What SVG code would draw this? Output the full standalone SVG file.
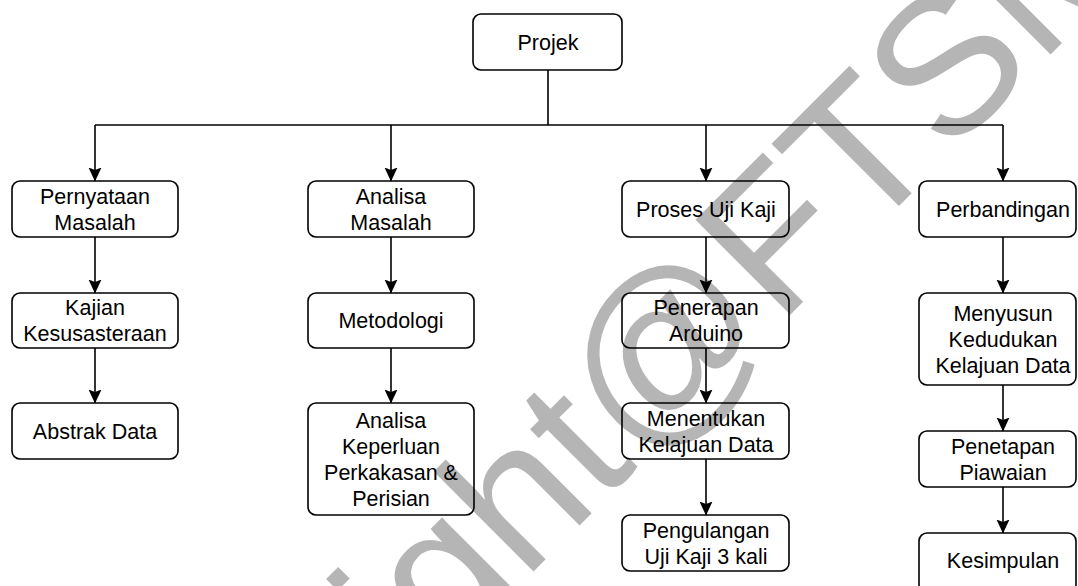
<svg xmlns="http://www.w3.org/2000/svg" width="1078" height="586" viewBox="0 0 1078 586">
  <style>
    .box { fill: #ffffff; stroke: #000000; stroke-width: 1.6; }
    .lbl { font-family: "Liberation Sans", Arial, sans-serif; font-size: 21.5px; fill: #000000; text-anchor: middle; }
    .edge { fill: none; stroke: #000000; stroke-width: 1.6; }
    .arr { marker-end: url(#ah); }
    .wm { font-family: "Liberation Sans", Arial, sans-serif; font-size: 195px; fill: #000000; fill-opacity: 0.29; }
  </style>
  <defs>
    <marker id="ah" markerUnits="userSpaceOnUse" viewBox="0 0 14 14" markerWidth="14" markerHeight="14" refX="13.5" refY="7" orient="auto">
      <path d="M0,0.5 L14,7 L0,13.5 L2.5,7 Z" fill="#000000"/>
    </marker>
  </defs>
  <rect width="1078" height="586" fill="#ffffff"/>

  <g id="connectors">
    <path class="edge" d="M548,70 V125"/>
    <path class="edge" d="M95,125 H1003"/>
    <path class="edge arr" d="M95,125 V181"/>
    <path class="edge arr" d="M391,125 V181"/>
    <path class="edge arr" d="M706,125 V181"/>
    <path class="edge arr" d="M1003,125 V181"/>
    <path class="edge arr" d="M95,237 V293"/>
    <path class="edge arr" d="M95,348 V403"/>
    <path class="edge arr" d="M391,237 V293"/>
    <path class="edge arr" d="M391,348 V403"/>
    <path class="edge arr" d="M706,237 V293"/>
    <path class="edge arr" d="M706,348 V403"/>
    <path class="edge arr" d="M706,459 V515"/>
    <path class="edge arr" d="M1003,237 V293"/>
    <path class="edge arr" d="M1003,385 V431"/>
    <path class="edge arr" d="M1003,487 V533"/>
  </g>

  <g id="projek">
    <rect class="box" x="473" y="14" width="149" height="56" rx="8"/>
    <text class="lbl" x="548" y="49.5">Projek</text>
  </g>
  <g id="pernyataan-masalah">
    <rect class="box" x="12" y="181" width="166" height="56" rx="8"/>
    <text class="lbl" x="95" y="203.5">Pernyataan</text>
    <text class="lbl" x="95" y="229.5">Masalah</text>
  </g>
  <g id="analisa-masalah">
    <rect class="box" x="308" y="181" width="166" height="56" rx="8"/>
    <text class="lbl" x="391" y="203.5">Analisa</text>
    <text class="lbl" x="391" y="229.5">Masalah</text>
  </g>
  <g id="proses-uji-kaji">
    <rect class="box" x="622" y="181" width="167" height="56" rx="8"/>
    <text class="lbl" x="706" y="216.5">Proses Uji Kaji</text>
  </g>
  <g id="perbandingan">
    <rect class="box" x="919" y="181" width="157" height="56" rx="8"/>
    <text class="lbl" x="1003" y="216.5">Perbandingan</text>
  </g>
  <g id="kajian-kesusasteraan">
    <rect class="box" x="12" y="293" width="166" height="55" rx="8"/>
    <text class="lbl" x="95" y="315">Kajian</text>
    <text class="lbl" x="95" y="341">Kesusasteraan</text>
  </g>
  <g id="metodologi">
    <rect class="box" x="308" y="293" width="166" height="55" rx="8"/>
    <text class="lbl" x="391" y="328">Metodologi</text>
  </g>
  <g id="penerapan-arduino">
    <rect class="box" x="622" y="293" width="167" height="55" rx="8"/>
    <text class="lbl" x="706" y="315">Penerapan</text>
    <text class="lbl" x="706" y="341">Arduino</text>
  </g>
  <g id="menyusun">
    <rect class="box" x="919" y="293" width="157" height="92" rx="8"/>
    <text class="lbl" x="1003" y="320.5">Menyusun</text>
    <text class="lbl" x="1003" y="346.5">Kedudukan</text>
    <text class="lbl" x="1003" y="372.5">Kelajuan Data</text>
  </g>
  <g id="abstrak-data">
    <rect class="box" x="12" y="403" width="166" height="56" rx="8"/>
    <text class="lbl" x="95" y="438.5">Abstrak Data</text>
  </g>
  <g id="analisa-keperluan">
    <rect class="box" x="308" y="403" width="166" height="112" rx="8"/>
    <text class="lbl" x="391" y="427.5">Analisa</text>
    <text class="lbl" x="391" y="453.5">Keperluan</text>
    <text class="lbl" x="391" y="479.5">Perkakasan &amp;</text>
    <text class="lbl" x="391" y="505.5">Perisian</text>
  </g>
  <g id="menentukan">
    <rect class="box" x="622" y="403" width="167" height="56" rx="8"/>
    <text class="lbl" x="706" y="425.5">Menentukan</text>
    <text class="lbl" x="706" y="451.5">Kelajuan Data</text>
  </g>
  <g id="penetapan-piawaian">
    <rect class="box" x="919" y="431" width="157" height="56" rx="8"/>
    <text class="lbl" x="1003" y="453.5">Penetapan</text>
    <text class="lbl" x="1003" y="479.5">Piawaian</text>
  </g>
  <g id="pengulangan">
    <rect class="box" x="622" y="515" width="167" height="56" rx="8"/>
    <text class="lbl" x="706" y="537.5">Pengulangan</text>
    <text class="lbl" x="706" y="563.5">Uji Kaji 3 kali</text>
  </g>
  <g id="kesimpulan">
    <rect class="box" x="919" y="533" width="157" height="60" rx="8"/>
    <text class="lbl" x="1003" y="568">Kesimpulan</text>
  </g>

  <g id="watermark">
    <text class="wm" transform="translate(524,581) rotate(-45)" x="-672" y="0">Copyright@FTSM</text>
  </g>
</svg>
